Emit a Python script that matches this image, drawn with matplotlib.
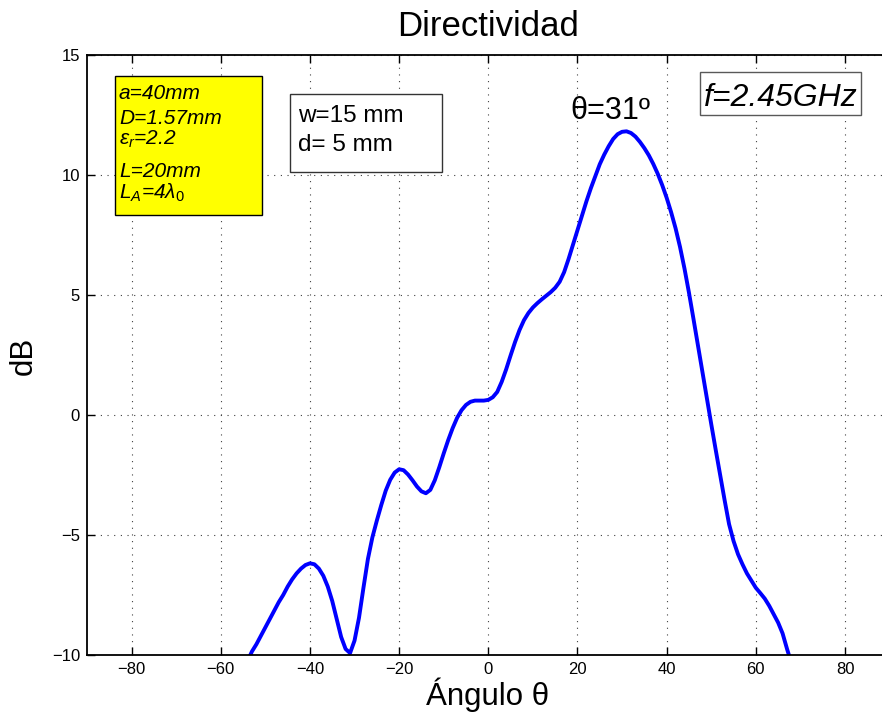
import matplotlib
matplotlib.use('Agg')
import matplotlib.pyplot as plt
from matplotlib.patches import Rectangle

plt.rcParams['font.family'] = ['Liberation Sans', 'DejaVu Sans']
plt.rcParams['mathtext.fontset'] = 'custom'
plt.rcParams['mathtext.it'] = 'Liberation Sans:italic'
plt.rcParams['mathtext.rm'] = 'Liberation Sans'
plt.rcParams['mathtext.sf'] = 'Liberation Sans'

# datos
angulo = list(range(-54, 69))
directividad = [
    -10.25, -9.85, -9.55, -9.2, -8.85, -8.5, -8.15, -7.8, -7.5, -7.15,    # -54..-45
    -6.85, -6.6, -6.4, -6.25, -6.18, -6.22, -6.4, -6.7, -7.15, -7.75,     # -44..-35
    -8.5, -9.25, -9.75, -9.92, -9.4, -8.45, -7.2, -6.0, -5.1, -4.4,       # -34..-25
    -3.75, -3.15, -2.7, -2.4, -2.26, -2.3, -2.48, -2.72, -2.98, -3.18,    # -24..-15
    -3.26, -3.12, -2.72, -2.18, -1.6, -1.05, -0.55, -0.12, 0.2, 0.42,     # -14..-5
    0.55, 0.6, 0.6, 0.6, 0.63, 0.74, 0.96, 1.38, 1.9, 2.48,               # -4..5
    3.04, 3.54, 3.95, 4.25, 4.48, 4.66, 4.82, 4.97, 5.12, 5.3,            # 6..15
    5.55, 5.95, 6.5, 7.1, 7.7, 8.3, 8.9, 9.45, 9.95, 10.45,               # 16..25
    10.85, 11.2, 11.5, 11.7, 11.8, 11.82, 11.75, 11.6, 11.38, 11.12,      # 26..35
    10.82, 10.46, 10.05, 9.58, 9.05, 8.45, 7.78, 7.0, 6.1, 5.1,           # 36..45
    4.02, 2.92, 1.82, 0.72, -0.38, -1.45, -2.5, -3.55, -4.55, -5.25,      # 46..55
    -5.8, -6.22, -6.6, -6.9, -7.2, -7.42, -7.65, -7.95, -8.3, -8.65,      # 56..65
    -9.1, -9.75, -10.35,                                                  # 66..68
]
xticks = [-80, -60, -40, -20, 0, 20, 40, 60, 80]
yticks = [-10, -5, 0, 5, 10, 15]

W, H = 882, 717
fig = plt.figure(figsize=(W / 100, H / 100), dpi=100)
ax = fig.add_axes([87 / W, 1 - 655 / H, 802.6 / W, 600 / H])


def fpos(x, y):
    # pixel (desde arriba-izquierda) -> fraccion de figura
    return x / W, 1 - y / H


ax.plot(angulo, directividad, color=(0, 0, 1), linewidth=2.8,
        solid_joinstyle='round', solid_capstyle='round')
ax.set_xlim(-90, 90)
ax.set_ylim(-10, 15)
ax.set_xticks(xticks)
ax.set_yticks(yticks)
ax.tick_params(direction='in', length=6, width=1, labelsize=12,
               top=True, right=True, pad=5)
ax.grid(True, linestyle=(0, (1, 5)), color='0.25', linewidth=0.8)
for s in ax.spines.values():
    s.set_linewidth(1.3)

# titulo y etiquetas
fig.text(*fpos(488, 36), 'Directividad', fontsize=25, ha='center', va='baseline')
fig.text(*fpos(488, 705), 'Ángulo θ', fontsize=22.5, ha='center', va='baseline')
fig.text(*fpos(24, 356), 'dB', fontsize=22.5, rotation=90, ha='center', va='center')

# caja amarilla
x0, y0 = fpos(115, 215)
x1, y1 = fpos(262, 75.7)
fig.add_artist(Rectangle((x0, y0), x1 - x0, y1 - y0, transform=fig.transFigure,
                         facecolor=(1, 1, 0), edgecolor='black', linewidth=1))
lineas = [('a=40mm', 99), ('D=1.57mm', 123.5), ('ε$_r$=2.2', 145),
          ('L=20mm', 177), ('L$_A$=4λ$_\\mathit{0}$', 198.5)]
for txt, yb in lineas:
    fig.text(*fpos(119, yb), txt, fontsize=15, style='italic', ha='left', va='baseline')

# caja w / d
x0, y0 = fpos(290, 172.3)
x1, y1 = fpos(441.7, 94.3)
fig.add_artist(Rectangle((x0, y0), x1 - x0, y1 - y0, transform=fig.transFigure,
                         facecolor='white', edgecolor='0.2', linewidth=1))
fig.text(*fpos(298, 122.3), 'w=15 mm', fontsize=17.5, ha='left', va='baseline')
fig.text(*fpos(298, 150.7), 'd= 5 mm', fontsize=17.5, ha='left', va='baseline')

# caja frecuencia
x0, y0 = fpos(699.7, 115)
x1, y1 = fpos(860.7, 71.7)
fig.add_artist(Rectangle((x0, y0), x1 - x0, y1 - y0, transform=fig.transFigure,
                         facecolor='white', edgecolor='0.35', linewidth=1))
fig.text(*fpos(704, 106), 'f=2.45GHz', fontsize=23, style='italic', ha='left', va='baseline')

# maximo
ax.text(18.3, 12.32, 'θ=31º', fontsize=22, ha='left', va='baseline')

fig.savefig('out.png', dpi=100)
